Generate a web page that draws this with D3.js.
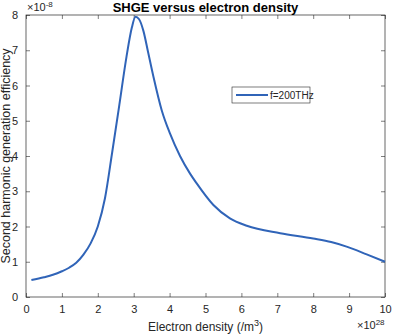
<!DOCTYPE html>
<html>
<head>
<meta charset="utf-8">
<script src="https://cdn.jsdelivr.net/npm/d3@7"></script>
<style>
	body { margin: 0; background: #fff; }
	svg text { font-family: "Liberation Sans", Arial, sans-serif; fill: #262626; }
</style>
</head>
<body>
<div id="chart"></div>
<script>

// electron density (x 1e28 /m^3) and SHGE (x 1e-8)
var density = [0.15, 0.5, 0.75, 1, 1.2, 1.4, 1.6, 1.8, 2, 2.2, 2.4, 2.6, 2.8, 2.95, 3.05, 3.15, 3.27, 3.4, 3.55, 3.78, 4.01, 4.29, 4.57, 4.75, 5.22, 5.68, 6.15, 7.08, 8.0, 8.5, 8.93, 9.49, 10];
var shge = [0.48, 0.56, 0.63, 0.73, 0.83, 0.97, 1.2, 1.52, 2.0, 2.8, 4.1, 5.45, 6.82, 7.65, 7.95, 7.88, 7.55, 6.95, 6.25, 5.3, 4.64, 4.0, 3.5, 3.23, 2.61, 2.23, 2.02, 1.81, 1.66, 1.56, 1.43, 1.21, 1.0];
var xTicks = [0, 1, 2, 3, 4, 5, 6, 7, 8, 9, 10];
var yTicks = [0, 1, 2, 3, 4, 5, 6, 7, 8];
var seriesName = "f=200THz";

var width = 393, height = 336,
	margin = {top: 15, right: 8, bottom: 39, left: 26},
	w = width - margin.left - margin.right,
	h = height - margin.top - margin.bottom;

var svg = d3.select("#chart").append("svg")
	.attr("width", width)
	.attr("height", height);

var g = svg.append("g")
	.attr("transform", "translate(" + margin.left + "," + margin.top + ")");

var x = d3.scaleLinear().domain([0, 10]).range([0, w]);
var y = d3.scaleLinear().domain([0, 8]).range([h, 0]);

function styleAxis(sel) {
	sel.select(".domain").remove();
	sel.selectAll("line").attr("stroke", "#262626").attr("stroke-width", 0.6);
	sel.selectAll("text").attr("font-size", "11px").style("fill", "#262626");
}

g.append("g").attr("transform", "translate(0," + h + ")")
	.call(d3.axisBottom(x).tickValues(xTicks).tickSize(-4).tickPadding(8))
	.call(styleAxis);
g.append("g")
	.call(d3.axisTop(x).tickValues(xTicks).tickSize(-4).tickFormat(""))
	.call(styleAxis);
g.append("g")
	.call(d3.axisLeft(y).tickValues(yTicks).tickSize(-4).tickPadding(8))
	.call(styleAxis);
g.append("g").attr("transform", "translate(" + w + ",0)")
	.call(d3.axisRight(y).tickValues(yTicks).tickSize(-4).tickFormat(""))
	.call(styleAxis);

g.append("rect")
	.attr("width", w).attr("height", h)
	.attr("fill", "none").attr("stroke", "#262626").attr("stroke-width", 0.7);

var line = d3.line()
	.x(function(d, i) { return x(density[i]); })
	.y(function(d, i) { return y(shge[i]); })
	.curve(d3.curveMonotoneX);

g.append("path")
	.datum(shge)
	.attr("d", line)
	.attr("fill", "none")
	.attr("stroke", "#3064b8")
	.attr("stroke-width", 2);

// legend
var lg = g.append("g").attr("transform", "translate(" + (232 - margin.left) + "," + (87 - margin.top) + ")");
lg.append("rect").attr("width", 78).attr("height", 16)
	.attr("fill", "#fff").attr("stroke", "#262626").attr("stroke-width", 0.6);
lg.append("line").attr("x1", 4).attr("x2", 36).attr("y1", 8).attr("y2", 8)
	.attr("stroke", "#3064b8").attr("stroke-width", 2);
lg.append("text").attr("x", 38).attr("y", 12).attr("font-size", "10px").text(seriesName);

// title and labels
svg.append("text").attr("x", margin.left + w / 2).attr("y", 12)
	.attr("text-anchor", "middle").attr("font-size", "13px").attr("font-weight", "bold")
	.style("fill", "#000").text("SHGE versus electron density");

var ex1 = svg.append("text").attr("x", 27).attr("y", 11).attr("font-size", "11px");
ex1.append("tspan").text("\u00d710");
ex1.append("tspan").attr("dy", -4).attr("font-size", "8px").text("-8");

var ex2 = svg.append("text").attr("x", 357).attr("y", 329).attr("font-size", "11px");
ex2.append("tspan").text("\u00d710");
ex2.append("tspan").attr("dy", -4).attr("font-size", "8px").text("28");

var xl = svg.append("text").attr("x", margin.left + w / 2).attr("y", 331)
	.attr("text-anchor", "middle").attr("font-size", "12px");
xl.append("tspan").text("Electron density (/m");
xl.append("tspan").attr("dy", -5).attr("font-size", "9px").text("3");
xl.append("tspan").attr("dy", 5).text(")");

svg.append("text")
	.attr("transform", "translate(10," + (margin.top + h / 2) + ") rotate(-90)")
	.attr("text-anchor", "middle").attr("font-size", "12.5px")
	.text("Second harmonic generation efficiency");

</script>
</body>
</html>
